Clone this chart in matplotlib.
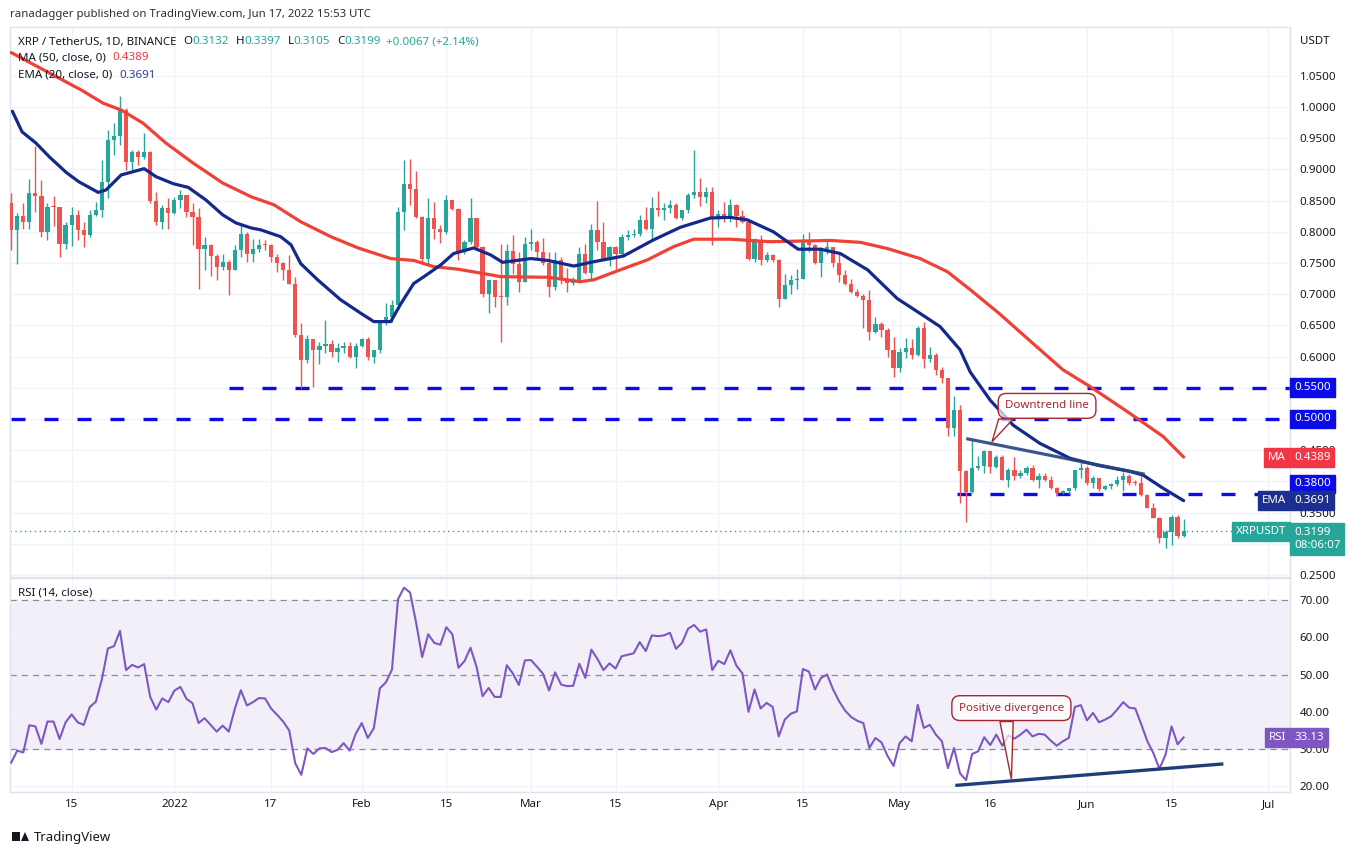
import matplotlib.pyplot as plt
import numpy as np
from matplotlib.transforms import blended_transform_factory
from matplotlib.patches import Rectangle, Polygon

plt.rcParams['font.family'] = ['Noto Sans', 'DejaVu Sans']

# daily candles, XRP/USDT, day 0 = 2021-12-05 ... day 194 = 2022-06-17
first_open = 0.846
closes = [.803, .825, .815, .862, .857, .799, .840, .839, .780, .811,
          .827, .803, .795, .827, .835, .880, .947, .953, .995, .911,
          .927, .919, .928, .850, .816, .838, .830, .851, .859, .832,
          .823, .772, .779, .761, .744, .752, .739, .771, .797, .765,
          .773, .779, .778, .760, .750, .738, .717, .635, .594, .628,
          .611, .617, .620, .607, .613, .617, .599, .617, .628, .599,
          .610, .656, .664, .683, .832, .877, .868, .823, .757, .822,
          .804, .800, .851, .836, .767, .784, .822, .776, .701, .722,
          .696, .695, .769, .749, .720, .780, .784, .768, .750, .712,
          .755, .724, .718, .723, .765, .734, .803, .784, .757, .776,
          .765, .792, .795, .796, .819, .804, .838, .835, .838, .843,
          .822, .834, .859, .863, .856, .863, .822, .829, .822, .843,
          .825, .816, .757, .787, .754, .763, .754, .693, .715, .723,
          .725, .784, .779, .750, .773, .776, .750, .731, .716, .704,
          .697, .691, .640, .652, .642, .610, .581, .608, .613, .603,
          .645, .596, .603, .579, .565, .485, .514, .416, .383, .421,
          .425, .448, .423, .439, .403, .419, .408, .414, .422, .402,
          .409, .403, .390, .381, .385, .389, .418, .422, .397, .405,
          .387, .393, .396, .402, .409, .398, .397, .378, .358, .342,
          .310, .319, .343, .3132, .3199]
highs = [.862, .830, .846, .884, .937, .883, .846, .857, .840, .816,
         .840, .835, .816, .835, .848, .915, .963, .974, 1.018, .998,
         .931, .931, .958, .930, .864, .843, .854, .856, .867, .859,
         .846, .838, .792, .780, .765, .765, .755, .779, .814, .800,
         .789, .788, .787, .781, .765, .752, .763, .728, .653, .635,
         .628, .624, .659, .626, .621, .624, .624, .621, .629, .632,
         .611, .659, .686, .691, .840, .915, .916, .898, .825, .854,
         .848, .811, .859, .851, .838, .787, .854, .822, .777, .722,
         .723, .781, .781, .795, .768, .792, .804, .787, .790, .768,
         .768, .760, .742, .728, .775, .781, .813, .849, .816, .777,
         .777, .796, .803, .804, .827, .839, .856, .866, .846, .851,
         .846, .835, .862, .931, .886, .872, .872, .834, .848, .852,
         .845, .835, .819, .790, .795, .768, .764, .756, .733, .731,
         .741, .797, .800, .780, .776, .786, .776, .765, .739, .725,
         .709, .701, .707, .664, .656, .645, .632, .613, .629, .628,
         .649, .656, .616, .605, .584, .565, .537, .522, .418, .466,
         .441, .450, .448, .442, .442, .421, .439, .418, .424, .426,
         .413, .413, .409, .391, .386, .389, .419, .434, .424, .408,
         .406, .394, .398, .408, .415, .412, .402, .408, .380, .365,
         .343, .322, .346, .346, .3397]
lows = [.771, .749, .804, .804, .832, .792, .786, .809, .760, .773,
        .777, .787, .776, .792, .825, .824, .854, .923, .939, .899,
        .899, .907, .916, .846, .811, .804, .804, .829, .838, .823,
        .779, .709, .738, .729, .723, .739, .699, .739, .760, .752,
        .752, .768, .771, .752, .736, .723, .716, .632, .549, .590,
        .552, .588, .605, .600, .592, .605, .597, .581, .615, .595,
        .589, .605, .651, .656, .680, .803, .843, .822, .749, .748,
        .789, .782, .797, .835, .755, .765, .781, .773, .696, .669,
        .680, .624, .683, .733, .704, .720, .771, .756, .747, .695,
        .707, .717, .704, .715, .718, .733, .724, .771, .755, .745,
        .741, .761, .786, .792, .793, .803, .787, .825, .819, .830,
        .820, .819, .830, .854, .841, .846, .779, .807, .816, .816,
        .808, .814, .755, .752, .747, .752, .752, .680, .693, .701,
        .709, .724, .768, .749, .727, .765, .743, .720, .715, .702,
        .696, .645, .627, .637, .632, .600, .567, .576, .597, .596,
        .601, .581, .592, .571, .557, .472, .473, .365, .335, .381,
        .418, .413, .413, .421, .402, .391, .402, .406, .410, .401,
        .389, .401, .387, .376, .380, .380, .386, .406, .394, .390,
        .385, .386, .388, .393, .385, .394, .394, .376, .357, .341,
        .301, .293, .298, .309, .3105]
opens = [first_open] + closes[:-1]

# moving averages (day, value)
ma_days = [0, 11.6, 15.2, 18.2, 21.8, 25.6, 30.1, 35.0, 39.7, 43.5, 47.9, 52.9, 57.4,
           62.8, 66.6, 69.9, 73.9, 79.3, 81.0, 88.8, 94.2, 96.4, 100.8, 105.3, 109.6,
           112.9, 119.0, 125.6, 135.5, 140.5, 145.0, 150.4, 154.9, 158.7, 163.6, 168.6,
           174.0, 178.5, 185.1, 190.6, 194]
ma_vals = [1.087, 1.027, 1.006, .995, .974, .942, .910, .878, .856, .843, .816, .792, .774,
           .757, .754, .744, .740, .731, .728, .727, .720, .723, .739, .755, .776,
           .788, .788, .784, .786, .783, .773, .757, .736, .707, .668, .625,
           .579, .552, .509, .472, .4389]
ema_days = [0.2, 1.8, 4.1, 6.3, 9.1, 11.2, 14.4, 15.7, 18.2, 22.0, 24.0, 26.8, 29.3, 32.2,
            35.0, 37.2, 39.7, 41.3, 44.6, 46.3, 47.9, 50.7, 54.5, 57.9, 60.0, 62.8, 64.5,
            66.6, 68.3, 71.1, 73.2, 76.5, 79.3, 81.3, 86.0, 88.8, 93.1, 95.9, 101.3, 106.3,
            110.7, 115.7, 119.0, 121.8, 126.1, 130.2, 133.9, 137.2, 141.7, 146.6, 150.4,
            153.7, 157.0, 158.7, 162.0, 165.8, 170.2, 175.2, 179.7, 185.1, 187.3, 190.6, 194]
ema_vals = [.993, .960, .942, .920, .895, .880, .863, .867, .891, .901, .888, .877, .871, .851,
            .827, .814, .806, .803, .792, .779, .749, .723, .691, .669, .656, .656, .685,
            .717, .728, .747, .765, .774, .763, .751, .757, .754, .745, .751, .761, .787,
            .807, .822, .823, .819, .800, .772, .772, .765, .739, .693, .669,
            .648, .611, .575, .530, .490, .461, .437, .426, .416, .410, .389, .3691]

rsi_vals = [26.4, 29.6, 29.1, 36.4, 36.1, 31.4, 37.4, 37.4, 32.7, 37.2,
            39.3, 37.2, 36.5, 41.3, 42.7, 48.7, 57.0, 57.6, 61.7, 51.2,
            52.6, 51.9, 52.8, 44.0, 40.6, 43.6, 42.6, 45.7, 46.7, 43.5,
            42.3, 37.0, 38.3, 36.5, 34.7, 36.3, 34.7, 40.8, 45.8, 41.7,
            42.6, 43.7, 43.6, 40.9, 39.2, 37.4, 35.0, 26.2, 23.1, 30.2,
            28.7, 30.2, 30.3, 29.2, 29.8, 31.6, 29.6, 34.1, 37.0, 33.0,
            35.6, 46.3, 47.9, 51.3, 70.2, 73.3, 72.0, 63.9, 54.7, 60.8,
            58.5, 58.0, 62.7, 60.8, 51.8, 53.6, 57.2, 52.1, 44.2, 46.4,
            44.0, 44.0, 52.5, 50.3, 47.2, 53.8, 53.9, 52.1, 50.2, 45.7,
            50.6, 47.3, 46.9, 47.0, 52.9, 49.1, 56.7,
            54.2, 51.2, 53.0, 51.6, 54.9, 55.3, 55.7, 58.7, 56.3, 60.5,
            60.3, 60.5, 61.2, 56.9, 58.5, 62.3, 63.3, 61.5, 62.1, 51.2,
            53.7, 52.8, 56.5, 52.4, 50.3, 40.0, 46.0, 40.9, 42.4, 41.3,
            33.4, 37.9, 39.5, 40.1, 51.5, 50.8, 46.0, 49.1, 50.0, 46.0,
            42.8, 40.3, 38.6, 37.6, 37.0, 30.3, 33.0, 31.8, 28.2, 25.5,
            31.6, 33.4, 32.1, 41.9, 35.7, 36.5, 33.9, 32.1, 24.9, 30.3,
            23.5, 21.7, 28.7, 29.4, 33.2, 31.1, 33.9, 30.9, 33.7, 32.8,
            33.9, 35.2, 33.4, 34.1, 33.9, 32.3, 30.9, 32.1, 33.0, 41.3,
            41.8, 37.7, 39.7, 37.2, 37.9, 38.8, 40.6, 42.6, 41.1, 40.9,
            36.6, 32.1, 28.9, 24.7, 28.5, 36.1, 31.3, 33.13]

tick_days = [10, 27, 43, 58, 72, 86, 100, 117, 131, 147, 162, 178, 192, 208]
tick_labels = ['15', '2022', '17', 'Feb', '15', 'Mar', '15', 'Apr', '15', 'May', '16', 'Jun', '15', 'Jul']

# horizontal levels: (price, first day)
levels = [(0.55, 36.0), (0.50, 0), (0.38, 156.5)]
trend_days, trend_vals = [158.3, 187.3], [0.468, 0.412]
rsi_trend_days, rsi_trend_vals = [156.5, 200.3], [20.3, 26.0]

last_price = 0.3199
ma_last, ema_last, rsi_last = 0.4389, 0.3691, 33.13

GREEN, RED = '#26a69a', '#ef5350'
MA_C, EMA_C, LVL_C = '#ef4136', '#15298c', '#0b0be8'
TXT = '#131722'
GRID = '#f0f3fa'
NOTE = '#a82630'
W, H = 1368, 855


def fx(px):
    return px / W


def fy(py):
    return 1 - py / H


fig = plt.figure(figsize=(13.68, 8.55), dpi=100)
ax = fig.add_axes([fx(10), fy(577), fx(1290) - fx(10), fy(27) - fy(577)])
rx = fig.add_axes([fx(10), fy(792), fx(1290) - fx(10), fy(578) - fy(792)], sharex=ax)

days = np.arange(len(closes))
xmax = 211.6

# candles
for d, o, h, l, c in zip(days, opens, highs, lows, closes):
    col = GREEN if c >= o else RED
    ax.vlines(d, l, h, color=col, lw=1, zorder=3)
    ax.bar(d, max(abs(c - o), 0.0018), bottom=min(o, c), width=0.7, color=col, zorder=3)

ax.plot(ma_days, ma_vals, color=MA_C, lw=2.3, zorder=4, solid_capstyle='round',
        solid_joinstyle='round')
ax.plot(ema_days, ema_vals, color=EMA_C, lw=2.3, zorder=4, solid_capstyle='round',
        solid_joinstyle='round')

for lvl, d0 in levels:
    ax.plot([d0, xmax], [lvl, lvl], color=LVL_C, lw=2.4, dashes=(4.2, 5.7), zorder=2)

ax.plot(trend_days, trend_vals, color='#26447f', lw=2.3, alpha=0.9, zorder=5)
ax.axhline(last_price, color=GREEN, lw=1, ls=(0, (1, 2.5)), zorder=2)

ax.set_xlim(-0.2, xmax)
ax.set_ylim(0.2468, 1.128)
yt = np.arange(0.25, 1.051, 0.05)
hidden = {'0.3000', '0.4000', '0.5000', '0.5500'}   # covered by the price tags
ax.set_yticks(yt)
ax.set_yticklabels(['' if f'{v:.4f}' in hidden else f'{v:.4f}' for v in yt])
ax.yaxis.tick_right()
ax.tick_params(axis='y', length=0, pad=7, labelsize=8.3, labelcolor=TXT)
ax.tick_params(axis='x', length=0, labelbottom=False)
ax.set_xticks(tick_days)
ax.grid(color=GRID, lw=1, zorder=0)

# RSI pane
rx.axhspan(30, 70, color='#7e57c2', alpha=0.09, lw=0, zorder=1)
for v in (70, 50, 30):
    rx.axhline(v, color='#8a8d96', lw=0.9, ls=(0, (5, 4)), zorder=2)
rx.plot(days, rsi_vals, color='#7e57c2', lw=1.5, zorder=4)
rx.plot(rsi_trend_days, rsi_trend_vals, color='#1f3f7a', lw=2.4, zorder=5)
rx.set_ylim(18.5, 75.9)
rt = np.arange(20, 71, 10)
rx.set_yticks(rt)
rx.set_yticklabels([f'{v:.2f}' for v in rt])
rx.yaxis.tick_right()
rx.tick_params(axis='y', length=0, pad=7, labelsize=8.3, labelcolor=TXT)
rx.set_xticks(tick_days)
rx.set_xticklabels(tick_labels)
rx.tick_params(axis='x', length=0, pad=5, labelsize=8.3, labelcolor=TXT)
rx.grid(color=GRID, lw=1, zorder=0)

for a in (ax, rx):
    for s in a.spines.values():
        s.set_color('#e0e3eb')
        s.set_linewidth(1)


def axis_box(axis, value, text, fc, side='right', tc='white', va='center'):
    tr = blended_transform_factory(axis.transAxes, axis.transData)
    x, ha = (1.0032, 'left') if side == 'right' else (0.9968, 'right')
    axis.text(x, value, text, transform=tr, ha=ha, va=va, fontsize=8.3, color=tc,
              linespacing=1.25,
              bbox=dict(boxstyle='square,pad=0.33', fc=fc, ec=fc), clip_on=False, zorder=10)


axis_box(ax, 0.55, '0.5500', LVL_C)
axis_box(ax, 0.50, '0.5000', LVL_C)
axis_box(ax, ma_last - 0.001, f'{ma_last:.4f}', '#f23645')
axis_box(ax, ma_last - 0.001, 'MA', '#f23645', side='left')
axis_box(ax, 0.38 + 0.016, '0.3800', LVL_C)
axis_box(ax, ema_last, f'{ema_last:.4f}', '#1c2f8f')
axis_box(ax, ema_last, 'EMA', '#1c2f8f', side='left')
axis_box(ax, last_price, 'XRPUSDT', GREEN, side='left')
axis_box(ax, last_price + 0.007, f'{last_price:.4f}\n08:06:07', GREEN, va='top')
axis_box(rx, rsi_last, f'{rsi_last:.2f}', '#7e57c2')
axis_box(rx, rsi_last, 'RSI', '#7e57c2', side='left')


def callout(axis, text, cx, cy, base1, base2, tip):
    axis.add_patch(Polygon([base1, tip, base2], closed=True, fc=(1, 1, 1, 0.7), ec=NOTE,
                           lw=1, zorder=8))
    axis.text(cx, cy, text, ha='center', va='center', fontsize=8.3, color=NOTE, zorder=9,
              bbox=dict(boxstyle='round,pad=0.6,rounding_size=0.7', fc=(1, 1, 1, 0.7),
                        ec=NOTE, lw=1))


callout(ax, 'Downtrend line', 171.4, 0.521, (163.4, 0.500), (165.8, 0.500), (162.3, 0.4636))
callout(rx, 'Positive divergence', 165.5, 41.0, (163.6, 37.4), (165.8, 37.4), (165.5, 21.9))

# header, legends
fig.text(fx(10), fy(14), 'ranadagger published on TradingView.com, Jun 17, 2022 15:53 UTC',
         fontsize=8.2, color='#2a2e39', va='center')


def chain(pieces, x, y):
    t = fig.text(x, y, pieces[0][0], color=pieces[0][1], fontsize=8.3, va='center', ha='left')
    for s, c, gap in pieces[1:]:
        t = ax.annotate(s, xy=(1, 0.5), xycoords=t, xytext=(gap, 0), textcoords='offset points',
                        va='center', ha='left', color=c, fontsize=8.3, annotation_clip=False)


chain([('XRP / TetherUS, 1D, BINANCE', TXT),
       ('O', TXT, 5), ('0.3132', GREEN, 0), ('H', TXT, 5), ('0.3397', GREEN, 0),
       ('L', TXT, 5), ('0.3105', GREEN, 0), ('C', TXT, 5), ('0.3199', GREEN, 0),
       ('+0.0067 (+2.14%)', GREEN, 4)], fx(18), fy(42))
chain([('MA (50, close, 0)', TXT), (f'{ma_last:.4f}', '#f23645', 5)], fx(18), fy(58))
chain([('EMA (20, close, 0)', TXT), (f'{ema_last:.4f}', '#2a3f9d', 5)], fx(18), fy(75))
chain([('RSI (14, close)', TXT), (f'{rsi_last:.2f}', '#7e57c2', 5)], fx(18), fy(593))
fig.text(fx(1300), fy(42), 'USDT', fontsize=8.3, color=TXT, va='center')

# footer logo + name
fig.patches.append(Rectangle((fx(12), fy(841)), fx(8), fy(832) - fy(841), transform=fig.transFigure,
                             fc='#131722', ec='none'))
fig.patches.append(Polygon([(fx(21), fy(841)), (fx(25), fy(832)), (fx(29), fy(841))],
                           transform=fig.transFigure, fc='#131722', ec='none'))
fig.text(fx(34), fy(837), 'TradingView', fontsize=9.5, color=TXT, va='center')

fig.savefig('out.png', dpi=100)
